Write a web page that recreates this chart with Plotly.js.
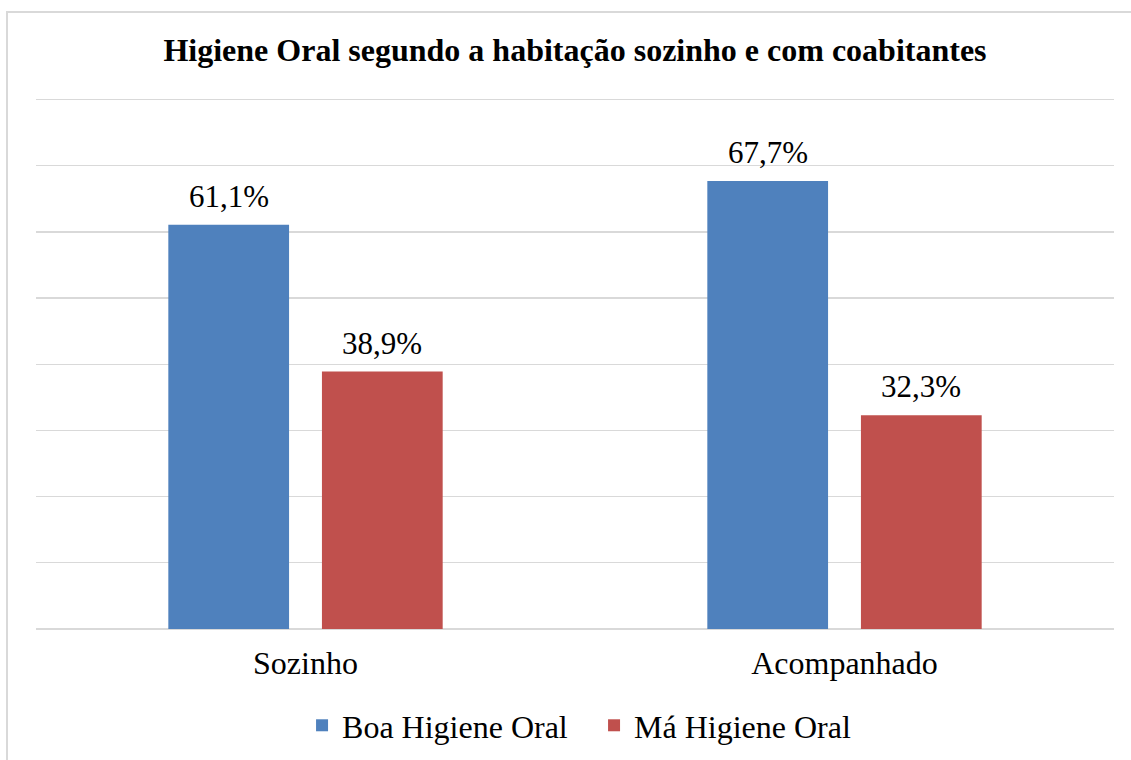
<!DOCTYPE html>
<html>
<head>
<meta charset="utf-8">
<script src="https://cdn.plot.ly/plotly-3.0.1.min.js"></script>
<style>
  html, body { margin: 0; padding: 0; background: #ffffff; }
  #wrap { position: relative; width: 1131px; height: 760px; overflow: hidden; }
  #chart { width: 1131px; height: 760px; }
  #frame { position: absolute; left: 6px; top: 11px; width: 1200px; height: 800px;
           border-left: 2px solid #d9d9d9; border-top: 2px solid #d9d9d9; pointer-events: none; }
</style>
</head>
<body>
<div id="wrap">
  <div id="chart"></div>
  <div id="frame"></div>
</div>
<script>
const categories = ['Sozinho', 'Acompanhado'];
const seriesNames = ['Boa Higiene Oral', 'Má Higiene Oral'];
const boaValues = [61.1, 67.7];
const maValues = [38.9, 32.3];
const seriesColors = ['#4f81bd', '#c0504d'];
const chartTitle = 'Higiene Oral segundo a habitação sozinho e com coabitantes';

const FONT = 'Liberation Serif';
const BARGAP = 0.43;
const BARGROUPGAP = 0.214;

const fmt = v => v.toFixed(1).replace('.', ',') + '%';

const series = [boaValues, maValues];
const traces = series.map((vals, s) => ({
  type: 'bar',
  name: seriesNames[s],
  x: categories,
  y: vals,
  marker: { color: seriesColors[s], line: { width: 0 } },
  hoverinfo: 'skip'
}));

const groupWidth = 1 - BARGAP;
const slot = groupWidth / series.length;
const annotations = [];
series.forEach((vals, s) => {
  const off = -groupWidth / 2 + (s + 0.5) * slot;
  vals.forEach((v, i) => {
    annotations.push({
      x: i + off, y: v, xref: 'x', yref: 'y',
      text: fmt(v), showarrow: false,
      xanchor: 'center', yanchor: 'bottom', yshift: 9,
      font: { family: FONT, size: 31, color: '#000000' }
    });
  });
});

const layout = {
  width: 1131, height: 760,
  margin: { l: 36, r: 17, t: 93, b: 131, autoexpand: false },
  paper_bgcolor: '#ffffff', plot_bgcolor: '#ffffff',
  barmode: 'group', bargap: BARGAP, bargroupgap: BARGROUPGAP,
  font: { family: FONT },
  title: {
    text: '<b>' + chartTitle + '</b>',
    font: { family: FONT, size: 32, color: '#000000' },
    x: 0.5, xanchor: 'center', xref: 'paper',
    y: 1 - 50 / 760, yanchor: 'middle', yref: 'container'
  },
  xaxis: {
    type: 'category',
    showgrid: false, showline: false, zeroline: false,
    ticks: '', tickfont: { family: FONT, size: 32, color: '#000000' },
    ticklabelstandoff: 12
  },
  yaxis: {
    range: [0, 81], dtick: 10, tick0: 0,
    showticklabels: false, ticks: '',
    showgrid: true, gridcolor: '#d9d9d9', gridwidth: 1.3,
    zeroline: true, zerolinecolor: '#d9d9d9', zerolinewidth: 1.6,
    showline: false, fixedrange: true
  },
  showlegend: true,
  legend: {
    orientation: 'h', x: 0.2468, xanchor: 'left', y: -0.18, yanchor: 'middle',
    entrywidth: 247, entrywidthmode: 'pixels',
    font: { family: FONT, size: 32, color: '#000000' },
    itemclick: false, itemdoubleclick: false, traceorder: 'normal'
  },
  annotations: annotations
};

Plotly.newPlot('chart', traces, layout, { displayModeBar: false, staticPlot: true });
</script>
</body>
</html>
